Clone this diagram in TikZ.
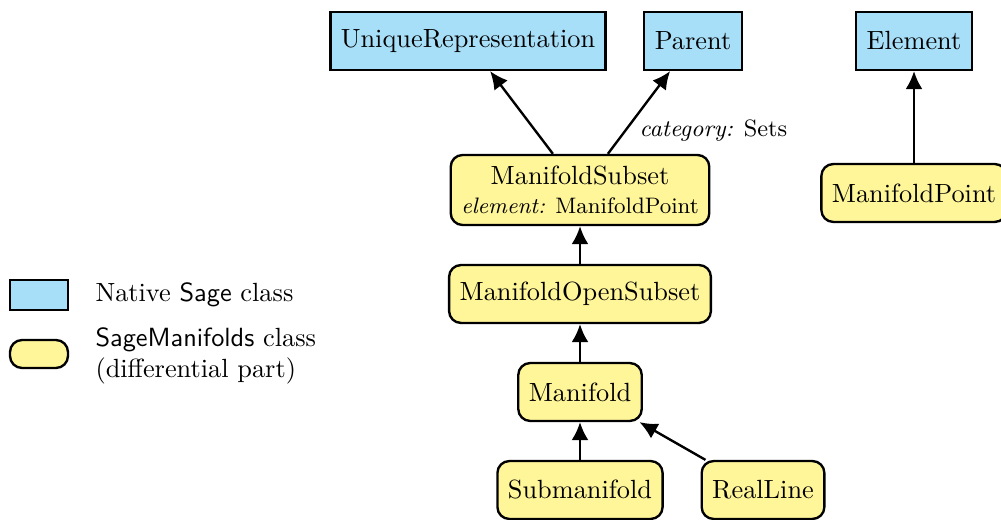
\documentclass[tikz,border=0pt]{standalone}
\usetikzlibrary{arrows.meta}
\definecolor{nativeblue}{RGB}{168,223,248}
\definecolor{smyellow}{RGB}{255,246,153}
\begin{document}
\begin{tikzpicture}[x=0.38pt,y=-0.38pt,
  native/.style={draw,line width=0.9pt,fill=nativeblue,minimum height=22pt,inner xsep=4pt,font=\normalsize},
  smclass/.style={draw,line width=0.9pt,fill=smyellow,rounded corners=4.5pt,minimum height=22pt,inner xsep=4pt,align=center},
  arr/.style={line width=0.9pt,-{Latex[length=6.8pt,width=6.4pt]}},
  lbl/.style={inner sep=0pt}]
\useasboundingbox (0,0) rectangle (1001,520);
% native classes
\node[native] (ur) at (468,41) {UniqueRepresentation};
\node[native] (pa) at (693,41) {Parent};
\node[native] (el) at (914,41) {Element};
% SageManifolds classes
\node[smclass,minimum height=26.6pt,inner ysep=1pt] (ms) at (580,190) {ManifoldSubset\\[-1pt]{\fontsize{8.5pt}{10pt}\selectfont\textit{element:} ManifoldPoint}};
\node[smclass] (mp) at (914,193) {ManifoldPoint};
\node[smclass] (mo) at (580,294) {ManifoldOpenSubset};
\node[smclass] (ma) at (580,392) {Manifold};
\node[smclass] (sm) at (580,490) {Submanifold};
\node[smclass] (rl) at (763,490) {RealLine};
% connectors
\draw[arr] ([xshift=-10.3pt]ms.north) -- ([xshift=8.4pt]ur.south);
\draw[arr] ([xshift=10.6pt]ms.north) -- ([xshift=-8.7pt]pa.south);
\node[lbl,anchor=west,font=\small] (cat) at (639,131) {\textit{category:} Sets};
\draw[arr] (mp.north) -- (el.south);
\draw[arr] (mo.north) -- (ms.south);
\draw[arr] (ma.north) -- (mo.south);
\draw[arr] (sm.north) -- (ma.south);
\draw[arr] ([xshift=1.9pt]rl.north west) -- ([xshift=-1.3pt]ma.south east);
% legend
\node[draw,line width=0.9pt,fill=nativeblue,minimum width=22pt,minimum height=11.4pt,inner sep=0pt] (lb) at (39,295) {};
\node[lbl,anchor=west] (lbt) at (95,295) {Native \textsf{Sage} class};
\node[draw,line width=0.9pt,fill=smyellow,rounded corners=4.5pt,minimum width=22pt,minimum height=10.6pt,inner sep=0pt] (ly) at (39,354) {};
\node[lbl,anchor=west,align=left] (lyt) at (95,356) {\textsf{SageManifolds} class\\(differential part)};
\end{tikzpicture}
\end{document}
